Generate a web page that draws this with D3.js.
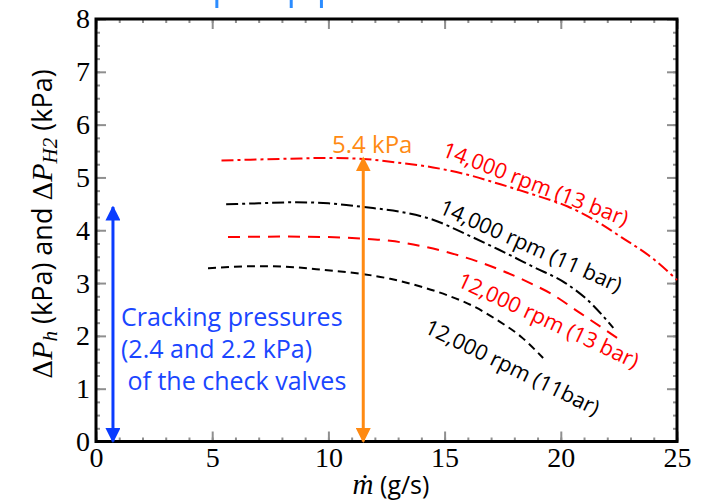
<!DOCTYPE html>
<html>
<head>
<meta charset="UTF-8">
<title>Pressure rise vs mass flow</title>
<style>
  body { margin: 0; background: #fff; }
  svg { display: block; }
</style>
</head>
<body>
<script src="https://cdn.jsdelivr.net/npm/d3@7"></script>
<script>
// mass flow (g/s) and pressure rise (kPa)
var rpm14k13bar = [[5.4,5.32],[7,5.34],[8.8,5.36],[10,5.37],[11.5,5.35],[13,5.28],[14.5,5.19],[16,5.05],[17.4,4.87],[19,4.65],[20.3,4.45],[21.5,4.18],[22.6,3.87],[24,3.45],[25,3.06]];
var rpm14k11bar = [[5.6,4.49],[7,4.51],[8.6,4.53],[10,4.51],[11.5,4.44],[13.1,4.35],[14.5,4.2],[15.9,3.93],[17.3,3.64],[18.8,3.31],[20.2,3.0],[21.1,2.7],[22.26,2.15]];
var rpm12k13bar = [[5.68,3.87],[8,3.88],[10,3.87],[11.5,3.84],[12.66,3.8],[14,3.7],[15.24,3.57],[17.39,3.25],[18.68,3.0],[19.54,2.81],[20.84,2.43],[22.56,1.92]];
var rpm12k11bar = [[4.82,3.28],[7.06,3.32],[8.5,3.3],[9.77,3.25],[11.49,3.17],[12.66,3.08],[14,2.93],[15.11,2.77],[16.2,2.57],[17.26,2.3],[18.3,1.98],[19.24,1.58]];

var curveNames = ["14,000 rpm (13 bar)", "14,000 rpm (11 bar)", "12,000 rpm (13 bar)", "12,000 rpm (11bar)"];
var xTicks = [0, 5, 10, 15, 20, 25];
var yTicks = [0, 1, 2, 3, 4, 5, 6, 7, 8];

// arrows: flow, top, bottom (kPa)
var crackingArrow = [0.73, 4.44, 0];
var peakArrow = [11.5, 5.37, 0];

var width = 706, height = 502;
var svg = d3.select("body").append("svg")
    .attr("width", width)
    .attr("height", height);

var x = d3.scaleLinear().domain([0, 25]).range([96, 677]);
var y = d3.scaleLinear().domain([0, 8]).range([441.5, 19]);

// arrow heads
var defs = svg.append("defs");
function arrowMarker(id, color) {
    defs.append("marker")
        .attr("id", id)
        .attr("viewBox", "0 0 10 10")
        .attr("refX", 9).attr("refY", 5)
        .attr("markerWidth", 5).attr("markerHeight", 5)
        .attr("markerUnits", "strokeWidth")
        .attr("orient", "auto-start-reverse")
        .append("path")
        .attr("d", "M0,0 L10,5 L0,10 z")
        .attr("fill", color);
}
arrowMarker("arBlue", "#0a3cff");
arrowMarker("arOrange", "#ff8a12");

// small clipped bits of the figure above the frame
var topBits = [5.2, 8.4, 9.7];
svg.selectAll(".bit").data(topBits).enter().append("line")
    .attr("x1", function(d){ return x(d); }).attr("x2", function(d){ return x(d); })
    .attr("y1", 0).attr("y2", 8)
    .attr("stroke", "#2b8cff").attr("stroke-width", 3);

// ticks (inside)
function tickAxis(axis, trans, size, vals) {
    var g = svg.append("g").attr("transform", trans)
        .call(axis.tickValues(vals).tickSize(size).tickFormat(""));
    g.select(".domain").remove();
    g.selectAll("line").attr("stroke", "#8f8f8f").attr("stroke-width", 2);
    return g;
}
var xMinor = d3.range(0, 26, 1), yMinor = d3.range(0, 8.01, 0.25);
tickAxis(d3.axisBottom(x), "translate(0," + y(0) + ")", -4, xMinor);
tickAxis(d3.axisBottom(x), "translate(0," + y(0) + ")", -10, xTicks);
tickAxis(d3.axisTop(x), "translate(0," + y(8) + ")", -4, xMinor);
tickAxis(d3.axisTop(x), "translate(0," + y(8) + ")", -10, xTicks);
tickAxis(d3.axisLeft(y), "translate(" + x(0) + ",0)", -4, yMinor);
tickAxis(d3.axisLeft(y), "translate(" + x(0) + ",0)", -10, yTicks);
tickAxis(d3.axisRight(y), "translate(" + x(25) + ",0)", -4, yMinor);
tickAxis(d3.axisRight(y), "translate(" + x(25) + ",0)", -10, yTicks);

// tick labels
var xl = svg.append("g").attr("transform", "translate(0," + y(0) + ")")
    .call(d3.axisBottom(x).tickValues(xTicks).tickSize(0).tickPadding(6));
var yl = svg.append("g").attr("transform", "translate(" + x(0) + ",0)")
    .call(d3.axisLeft(y).tickValues(yTicks).tickSize(0).tickPadding(6));
[xl, yl].forEach(function(g){
    g.select(".domain").remove();
    g.selectAll("text")
        .attr("font-family", "'Liberation Serif', serif")
        .attr("font-size", 28)
        .attr("fill", "#000");
});

// frame
svg.append("rect")
    .attr("x", x(0)).attr("y", y(8))
    .attr("width", x(25) - x(0)).attr("height", y(0) - y(8))
    .attr("fill", "none").attr("stroke", "#000").attr("stroke-width", 3);

// curves
var line = d3.line()
    .x(function(d){ return x(d[0]); })
    .y(function(d){ return y(d[1]); })
    .curve(d3.curveMonotoneX);

var series = [
    { data: rpm14k13bar, color: "#ff0000", dash: "12,4,3,4" },
    { data: rpm14k11bar, color: "#000000", dash: "12,4,3,4" },
    { data: rpm12k13bar, color: "#ff0000", dash: "12,8" },
    { data: rpm12k11bar, color: "#000000", dash: "8,5" }
];
svg.selectAll(".curve").data(series).enter().append("path")
    .attr("class", "curve")
    .attr("d", function(d){ return line(d.data); })
    .attr("fill", "none")
    .attr("stroke", function(d){ return d.color; })
    .attr("stroke-width", 2)
    .attr("stroke-dasharray", function(d){ return d.dash; });

// curve labels (anchor in data units, angle in degrees)
var labelPos = [[14.85, 5.41, 21], [14.72, 4.33, 24], [15.5, 2.95, 25], [14.08, 2.07, 26]];
svg.selectAll(".clabel").data(curveNames).enter().append("text")
    .attr("class", "clabel")
    .attr("transform", function(d, i){
        var p = labelPos[i];
        return "translate(" + x(p[0]) + "," + y(p[1]) + ") rotate(" + p[2] + ")";
    })
    .attr("font-family", "'Open Sans', sans-serif")
    .attr("font-size", 21.5)
    .attr("fill", function(d, i){ return series[i].color; })
    .text(function(d){ return d; });

// arrows
svg.append("line")
    .attr("x1", x(crackingArrow[0])).attr("x2", x(crackingArrow[0]))
    .attr("y1", y(crackingArrow[1])).attr("y2", y(crackingArrow[2]))
    .attr("stroke", "#0a3cff").attr("stroke-width", 3)
    .attr("marker-start", "url(#arBlue)").attr("marker-end", "url(#arBlue)");
svg.append("line")
    .attr("x1", x(peakArrow[0])).attr("x2", x(peakArrow[0]))
    .attr("y1", y(peakArrow[1])).attr("y2", y(peakArrow[2]))
    .attr("stroke", "#ff8a12").attr("stroke-width", 3)
    .attr("marker-start", "url(#arOrange)").attr("marker-end", "url(#arOrange)");

svg.append("text")
    .attr("x", x(peakArrow[0]) + 9).attr("y", y(peakArrow[1]) - 5)
    .attr("text-anchor", "middle")
    .attr("font-family", "'Open Sans', sans-serif")
    .attr("font-size", 24)
    .attr("fill", "#ff8a12")
    .text("5.4 kPa");

var crackText = ["Cracking pressures", "(2.4 and 2.2 kPa)", " of the check valves"];
svg.append("text")
    .attr("font-family", "'Open Sans', sans-serif")
    .attr("font-size", 25)
    .attr("fill", "#1a46ff")
    .attr("xml:space", "preserve")
    .selectAll("tspan").data(crackText).enter().append("tspan")
    .attr("x", 121)
    .attr("y", function(d, i){ return 326 + i * 32; })
    .text(function(d){ return d; });

// axis titles
var yt = svg.append("text")
    .attr("transform", "translate(52,224) rotate(-90)")
    .attr("text-anchor", "middle")
    .attr("font-family", "'Open Sans', sans-serif")
    .attr("font-size", 27)
    .attr("fill", "#000");
yt.append("tspan").attr("font-family", "'DejaVu Serif', serif").attr("font-size", 26).text("\u0394");
yt.append("tspan").attr("font-family", "'Liberation Serif', serif").attr("font-style", "italic").attr("font-size", 30).text("P");
yt.append("tspan").attr("font-family", "'Liberation Serif', serif").attr("font-style", "italic").attr("font-size", 21).attr("dy", 5).text("h");
yt.append("tspan").attr("dy", -5).text(" (kPa) and ");
yt.append("tspan").attr("font-family", "'DejaVu Serif', serif").attr("font-size", 26).text("\u0394");
yt.append("tspan").attr("font-family", "'Liberation Serif', serif").attr("font-style", "italic").attr("font-size", 30).text("P");
yt.append("tspan").attr("font-family", "'Liberation Serif', serif").attr("font-style", "italic").attr("font-size", 21).attr("dy", 5).text("H2");
yt.append("tspan").attr("dy", -5).text(" (kPa)");

var xt = svg.append("text")
    .attr("x", 391).attr("y", 494)
    .attr("text-anchor", "middle")
    .attr("font-family", "'Open Sans', sans-serif")
    .attr("font-size", 25)
    .attr("fill", "#000");
xt.append("tspan").attr("font-family", "'Liberation Serif', serif").attr("font-style", "italic").attr("font-size", 29).text("m\u0307");
xt.append("tspan").text(" (g/s)");
</script>
</body>
</html>
